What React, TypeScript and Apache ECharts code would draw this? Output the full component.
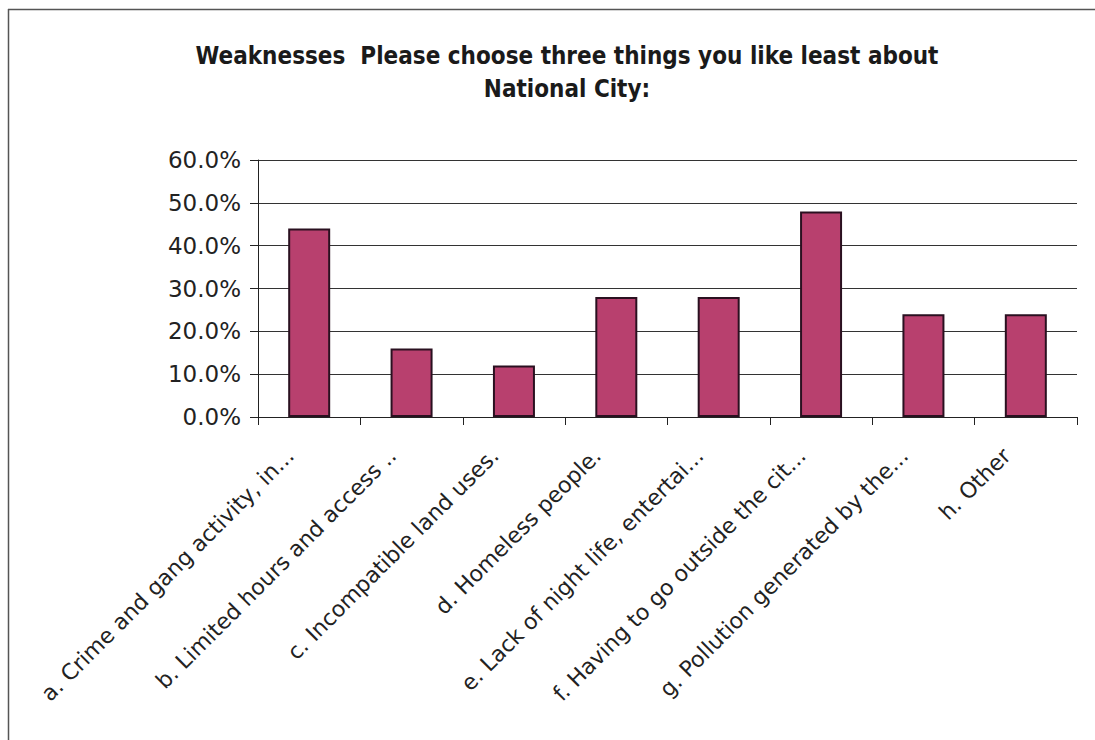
import React, { useEffect, useRef } from "react";
import * as echarts from "echarts";

const titleLines = [
  "Weaknesses  Please choose three things you like least about",
  "National City:",
];

const categories = [
  "a. Crime and gang activity, in...",
  "b. Limited hours and access ..",
  "c. Incompatible land uses.",
  "d. Homeless people.",
  "e. Lack of night life, entertai...",
  "f. Having to go outside the cit...",
  "g. Pollution generated by the...",
  "h. Other",
];

const values = [44, 16, 12, 28, 28, 48, 24, 24];

const yTicks = { min: 0, max: 60, interval: 10 };

export default function App() {
  const ref = useRef<HTMLDivElement>(null);
  useEffect(() => {
    if (!ref.current) return;
    const chart = echarts.init(ref.current, undefined, { renderer: "svg" });
    chart.setOption({
      animation: false,
      backgroundColor: "#ffffff",
      graphic: [
        {
          type: "line",
          shape: { x1: 8, y1: 9.5, x2: 1095, y2: 9.5 },
          style: { stroke: "#555", lineWidth: 1.5 },
        },
        {
          type: "line",
          shape: { x1: 8.5, y1: 9, x2: 8.5, y2: 740 },
          style: { stroke: "#555", lineWidth: 1.5 },
        },
        {
          type: "text",
          x: 567,
          y: 56,
          style: {
            text: titleLines[0],
            fontFamily: "'DejaVu Sans Condensed', 'Liberation Sans'",
            fontWeight: "bold",
            fontSize: 24,
            fill: "#1a1a1a",
            textAlign: "center",
            textVerticalAlign: "middle",
          },
        },
        {
          type: "text",
          x: 567,
          y: 89,
          style: {
            text: titleLines[1],
            fontFamily: "'DejaVu Sans Condensed', 'Liberation Sans'",
            fontWeight: "bold",
            fontSize: 24,
            fill: "#1a1a1a",
            textAlign: "center",
            textVerticalAlign: "middle",
          },
        },
      ],
      grid: { left: 258, right: 18, top: 160, bottom: 323, containLabel: false },
      xAxis: {
        type: "category",
        data: categories,
        boundaryGap: true,
        axisLine: { show: true, lineStyle: { color: "#222", width: 1 } },
        axisTick: { show: true, length: 8, alignWithLabel: false, lineStyle: { color: "#222" } },
        axisLabel: {
          interval: 0,
          rotate: 45,
          margin: 16,
          padding: [0, 27, 0, 0],
          fontFamily: "'DejaVu Sans', Verdana, sans-serif",
          fontSize: 22,
          color: "#222",
        },
      },
      yAxis: {
        type: "value",
        min: yTicks.min,
        max: yTicks.max,
        interval: yTicks.interval,
        axisLine: { show: true, lineStyle: { color: "#222", width: 1 } },
        axisTick: { show: true, length: 8, lineStyle: { color: "#222" } },
        splitLine: { show: true, lineStyle: { color: "#333", width: 1 } },
        axisLabel: {
          margin: 17,
          fontFamily: "'DejaVu Sans', Verdana, sans-serif",
          fontSize: 23,
          color: "#222",
          formatter: (v: number) => v.toFixed(1) + "%",
        },
      },
      series: [
        {
          type: "bar",
          data: values,
          barWidth: 42,
          itemStyle: { color: "#B8406E", borderColor: "#2a1020", borderWidth: 2 },
        },
      ],
    });
    return () => chart.dispose();
  }, []);
  return (
    <div
      ref={ref}
      style={{ position: "fixed", left: 0, top: 0, width: 1095, height: 740 }}
    />
  );
}
